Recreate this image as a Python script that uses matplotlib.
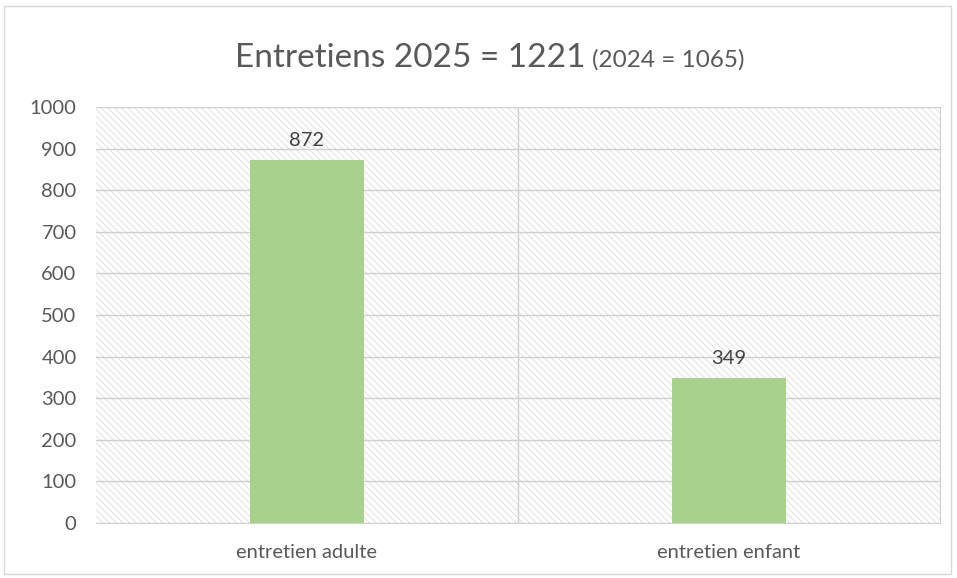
import matplotlib
matplotlib.use("Agg")
import matplotlib.pyplot as plt
from matplotlib.patches import Rectangle

categories = ["entretien adulte", "entretien enfant"]
values = [872, 349]
yticks = [0, 100, 200, 300, 400, 500, 600, 700, 800, 900, 1000]
title_main = "Entretiens 2025 = 1221"
title_sub = "(2024 = 1065)"

plt.rcParams['font.family'] = ['Lato', 'DejaVu Sans']
plt.rcParams['hatch.linewidth'] = 0.6
W, H = 957, 578
fig = plt.figure(figsize=(W/100, H/100), dpi=100)
fig.patch.set_facecolor('white')
fig.add_artist(Rectangle((4/W, 4/H), (W-10)/W, (H-10)/H, transform=fig.transFigure,
                         fill=False, edgecolor='#d9d9d9', linewidth=1))

ax = fig.add_axes([96/W, 1-523/H, (940-96)/W, (523-107)/H])
ax.set_xlim(-0.5, 1.5)
ax.set_ylim(0, 1000)
ax.add_patch(Rectangle((0, 0), 1, 1, transform=ax.transAxes, facecolor='white',
                       edgecolor='#dcdcdc', hatch='\\\\\\\\\\', linewidth=0, zorder=0))
for y in yticks:
    ax.axhline(y, color='#d0d0d0', linewidth=1, zorder=1)
ax.axvline(0.5, color='#d0d0d0', linewidth=1, zorder=1)

x = list(range(len(categories)))
ax.bar(x, values, width=0.27, color='#A9D18E', zorder=3)
for xi, v in zip(x, values):
    ax.annotate(str(v), (xi, v), xytext=(0, 8), textcoords='offset points',
                ha='center', va='bottom', fontsize=14.5, color='#404040')

ax.set_xticks(x)
ax.set_xticklabels(categories, fontsize=14.5, color='#595959')
ax.set_yticks(yticks)
ax.set_yticklabels([str(v) for v in yticks], fontsize=14.5, color='#595959')
ax.tick_params(length=0)
ax.tick_params(axis='y', pad=14)
ax.tick_params(axis='x', pad=15)
for s in ax.spines.values():
    s.set_visible(False)
ax.spines['bottom'].set_visible(True)
ax.spines['bottom'].set_color('#d0d0d0')
ax.spines['right'].set_visible(True)
ax.spines['right'].set_color('#d0d0d0')

t1 = fig.text(235/W, 1-67/H, title_main, fontsize=24, color='#595959', ha='left', va='baseline')
fig.canvas.draw()
bb = t1.get_window_extent()
fig.text((bb.x1 + 6)/W, 1-67/H, title_sub, fontsize=17.5, color='#595959', ha='left', va='baseline')

fig.savefig('out.png', dpi=100)
